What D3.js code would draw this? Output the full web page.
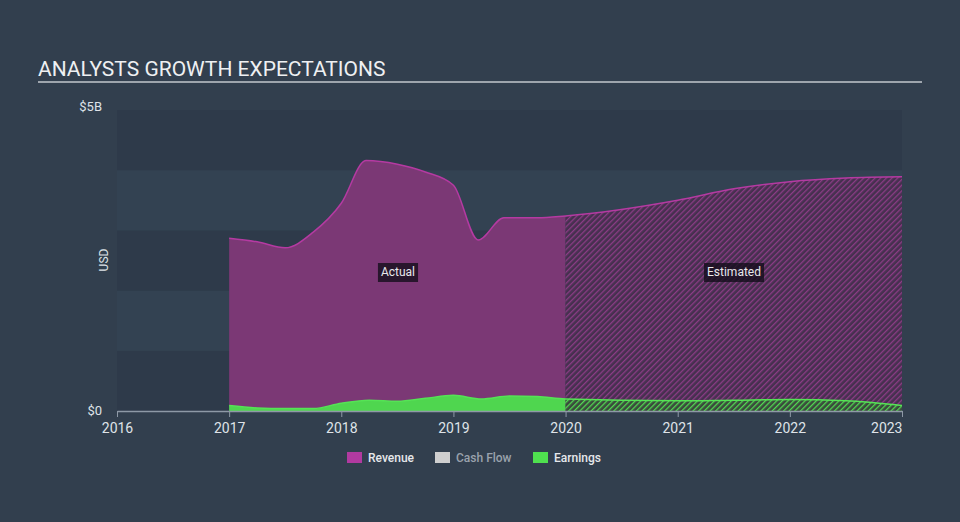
<!DOCTYPE html>
<html lang="en">
<head>
<meta charset="utf-8">
<script src="https://d3js.org/d3.v7.min.js"></script>
<style>
  body { margin: 0; background: #323f4e; font-family: Roboto, "Open Sans", sans-serif; }
  svg { display: block; }
  .axis text { font: 14px Roboto, sans-serif; fill: #dfe3e8; }
  .axis path, .axis line { stroke: #8e99a6; }
</style>
</head>
<body>
<script>
// ---- data (USD billions) ----
var revenueYears = [2017, 2017.25, 2017.5, 2017.75, 2018, 2018.22, 2018.5, 2018.75, 2019, 2019.22, 2019.45, 2019.75, 2020, 2021, 2021.5, 2022, 2022.5, 2023];
var revenueVals  = [2.87, 2.81, 2.71, 2.97, 3.45, 4.16, 4.10, 3.97, 3.75, 2.84, 3.21, 3.21, 3.24, 3.50, 3.69, 3.81, 3.87, 3.89];
var earningsYears = [2017, 2017.25, 2017.5, 2017.75, 2018, 2018.25, 2018.5, 2018.75, 2019, 2019.25, 2019.5, 2019.75, 2020, 2021, 2021.5, 2022, 2022.5, 2023];
var earningsVals  = [0.09, 0.05, 0.04, 0.04, 0.13, 0.18, 0.16, 0.21, 0.26, 0.20, 0.25, 0.24, 0.20, 0.17, 0.18, 0.19, 0.17, 0.09];
var splitYear = 2020;
var yTicks = [0, 5];
var xTicks = [2016, 2017, 2018, 2019, 2020, 2021, 2022, 2023];
var legendItems = ["Revenue", "Cash Flow", "Earnings"];
var legendColors = ["#b13aa0", "#cfcfcf", "#4fe04f"];

var W = 960, H = 522;
var plotLeft = 117, plotRight = 902, plotTop = 110, plotBottom = 411;

var svg = d3.select("body").append("svg").attr("width", W).attr("height", H);

// title
svg.append("text").attr("x", 38).attr("y", 76)
  .style("font", "21px Roboto, sans-serif").style("fill", "#eef0f2")
  .text("ANALYSTS GROWTH EXPECTATIONS");
svg.append("line").attr("x1", 38).attr("x2", 922).attr("y1", 82).attr("y2", 82)
  .style("stroke", "#c3c8ce").style("stroke-width", 1.5);

var x = d3.scaleLinear().domain([2016, 2023]).range([plotLeft, plotRight]);
var y = d3.scaleLinear().domain([0, 5]).range([plotBottom, plotTop]);

// background bands
var bands = d3.range(0, 5);
svg.selectAll(".band").data(bands).enter().append("rect")
  .attr("x", plotLeft).attr("width", plotRight - plotLeft)
  .attr("y", function(d) { return y(d + 1); })
  .attr("height", function(d) { return y(d) - y(d + 1); })
  .style("fill", function(d) { return d % 2 === 0 ? "#2e3a4a" : "#334252"; });

// patterns
var defs = svg.append("defs");
function hatch(id, bg, fg) {
  var p = defs.append("pattern").attr("id", id).attr("patternUnits", "userSpaceOnUse")
    .attr("width", 4).attr("height", 4).attr("patternTransform", "rotate(45)");
  p.append("rect").attr("width", 4).attr("height", 4).style("fill", bg);
  p.append("line").attr("x1", 0).attr("y1", 0).attr("x2", 0).attr("y2", 4)
    .style("stroke", fg).style("stroke-width", 2.6);
}
hatch("revHatch", "#46304f", "#8c3c86");
hatch("earnHatch", "#3a4a3c", "#52d852");

defs.append("clipPath").attr("id", "clipActual").append("rect")
  .attr("x", x(2016)).attr("width", x(splitYear) - x(2016)).attr("y", 0).attr("height", H);
defs.append("clipPath").attr("id", "clipEst").append("rect")
  .attr("x", x(splitYear)).attr("width", x(2023) - x(splitYear) + 1).attr("y", 0).attr("height", H);

var revData = revenueYears.map(function(d, i) { return [d, revenueVals[i]]; });
var earnData = earningsYears.map(function(d, i) { return [d, earningsVals[i]]; });

var area = d3.area().curve(d3.curveMonotoneX)
  .x(function(d) { return x(d[0]); }).y0(y(0)).y1(function(d) { return y(d[1]); });
var line = d3.line().curve(d3.curveMonotoneX)
  .x(function(d) { return x(d[0]); }).y(function(d) { return y(d[1]); });

function series(data, solid, pat, stroke) {
  svg.append("path").datum(data).attr("d", area).attr("clip-path", "url(#clipActual)").style("fill", solid);
  svg.append("path").datum(data).attr("d", area).attr("clip-path", "url(#clipEst)").style("fill", "url(#" + pat + ")");
  svg.append("path").datum(data).attr("d", line).style("fill", "none").style("stroke", stroke).style("stroke-width", 1.5);
}
series(revData, "#7b3875", "revHatch", "#b53aa2");
series(earnData, "#4fd64f", "earnHatch", "#55e355");

// x axis
var xAxis = svg.append("g").attr("class", "axis").attr("transform", "translate(0," + plotBottom + ")")
  .call(d3.axisBottom(x).tickValues(xTicks).tickFormat(d3.format("d")).tickSize(6).tickSizeOuter(0));
xAxis.select(".domain").style("stroke-width", 1.5);
xAxis.selectAll("text").attr("dy", "0.95em")
  .style("text-anchor", function(d) { return d === 2023 ? "end" : "middle"; });

// y labels
svg.selectAll(".ylab").data(yTicks).enter().append("text")
  .attr("x", 102).attr("y", function(d) { return y(d); }).attr("dy", function(d) { return d === 0 ? "0.3em" : "0.1em"; })
  .style("text-anchor", "end").style("font", "13px Roboto, sans-serif").style("fill", "#dfe3e8")
  .text(function(d) { return d === 0 ? "$0" : "$" + d + "B"; });
svg.append("text").attr("transform", "translate(108,260) rotate(-90)")
  .style("text-anchor", "middle").style("font", "12px Roboto, sans-serif").style("fill", "#dfe3e8").text("USD");

// region labels
function tag(txt, cx) {
  var g = svg.append("g");
  var t = g.append("text").attr("x", cx).attr("y", 276).style("text-anchor", "middle")
    .style("font", "12px Roboto, sans-serif").style("fill", "#e8e8ec").text(txt);
  var b = t.node().getBBox();
  g.insert("rect", "text").attr("x", b.x - 3).attr("y", 263).attr("width", b.width + 6).attr("height", 19)
    .style("fill", "rgba(20,14,28,0.8)");
}
tag("Actual", 398);
tag("Estimated", 734);

// legend
var lx = [347, 435, 533];
var lg = svg.selectAll(".leg").data(legendItems).enter().append("g")
  .attr("transform", function(d, i) { return "translate(" + lx[i] + ",452)"; });
lg.append("rect").attr("width", 15).attr("height", 11).style("fill", function(d, i) { return legendColors[i]; });
lg.append("text").attr("x", 21).attr("y", 10)
  .style("font", "500 12px Roboto, sans-serif")
  .style("fill", function(d) { return d === "Cash Flow" ? "#9aa2ac" : "#e6e8eb"; })
  .text(function(d) { return d; });
</script>
</body>
</html>
